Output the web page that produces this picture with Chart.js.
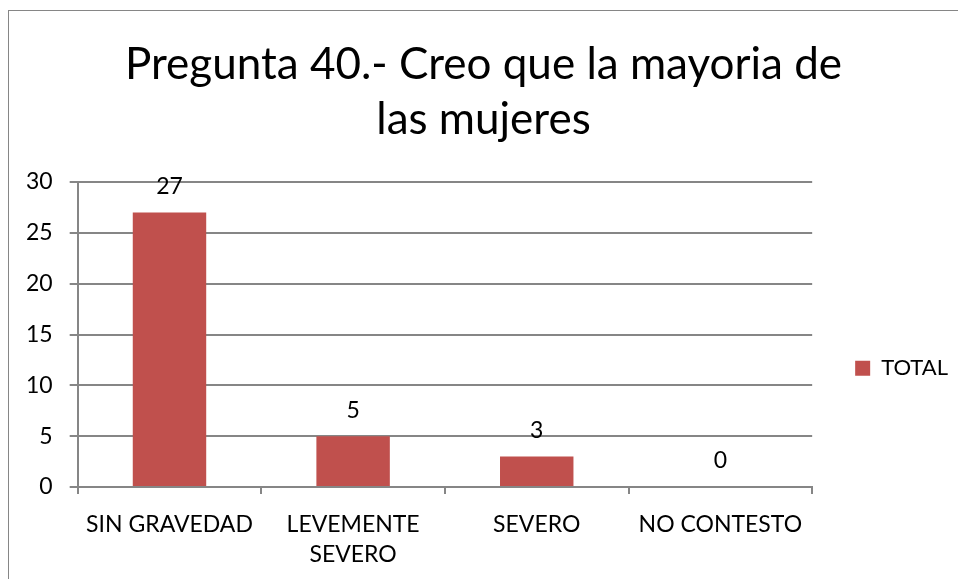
<!DOCTYPE html>
<html>
<head>
<meta charset="utf-8">
<script src="https://cdn.jsdelivr.net/npm/chart.js@4/dist/chart.umd.min.js"></script>
<style>
  html, body { margin: 0; padding: 0; background: #fff; overflow: hidden; }
  #frame {
    position: absolute; left: 8px; top: 10px;
    width: 1000px; height: 700px;
    border: 1px solid #868686;
  }
  #wrap { position: absolute; left: 0; top: 0; width: 971px; height: 568px; }
</style>
</head>
<body>
<div id="frame">
  <div id="wrap"><canvas id="chart"></canvas></div>
</div>
<script>
//categories and values
const categories = ["SIN GRAVEDAD", ["LEVEMENTE", "SEVERO"], "SEVERO", "NO CONTESTO"];
const totals = [27, 5, 3, 0];
const seriesName = "TOTAL";
const chartTitle = ["Pregunta 40.- Creo que la mayoria de", "las mujeres"];
const yTicks = [0, 5, 10, 15, 20, 25, 30];

const barColor = "#C0504D";
const lineColor = "#868686";
const fontFamily = "Lato, 'Open Sans', sans-serif";

//Plugin that writes the value above each bar
const valueLabels = {
  id: "valueLabels",
  afterDatasetsDraw(chart) {
    const ctx = chart.ctx;
    const meta = chart.getDatasetMeta(0);
    ctx.save();
    ctx.fillStyle = "#000";
    ctx.font = "23px " + fontFamily;
    ctx.textAlign = "center";
    ctx.textBaseline = "middle";
    meta.data.forEach((bar, i) => {
      ctx.fillText(String(totals[i]), bar.x, bar.y - 26);
    });
    ctx.restore();
  },
};

new Chart(document.getElementById("chart"), {
  type: "bar",
  plugins: [valueLabels],
  data: {
    labels: categories,
    datasets: [
      {
        label: seriesName,
        data: totals,
        backgroundColor: barColor,
        categoryPercentage: 1,
        barPercentage: 0.4,
      },
    ],
  },
  options: {
    responsive: true,
    maintainAspectRatio: false,
    animation: false,
    layout: { padding: { left: 0, right: 22, top: 0, bottom: 0 } },
    plugins: {
      tooltip: { enabled: false },
      title: {
        display: true,
        text: chartTitle,
        color: "#000",
        font: { family: fontFamily, size: 44, weight: "normal", lineHeight: 1.25 },
        padding: { top: 26, bottom: 35 },
      },
      legend: {
        position: "right",
        //blank legend title only pushes the entry down to where it sits in the picture
        title: { display: true, text: " ", padding: { top: 0, bottom: 132 }, font: { size: 12 } },
        labels: {
          color: "#000",
          font: { family: fontFamily, size: 22 },
          boxWidth: 15,
          boxHeight: 15,
          padding: 43,
        },
      },
    },
    scales: {
      x: {
        afterFit: (axis) => {
          axis.height = 92;
        },
        grid: {
          offset: true,
          drawOnChartArea: false,
          drawTicks: true,
          tickLength: 7,
          color: lineColor,
          lineWidth: 2,
        },
        border: { color: lineColor, width: 2 },
        ticks: {
          color: "#000",
          padding: 16,
          maxRotation: 0,
          font: { family: fontFamily, size: 23, lineHeight: 1.3 },
        },
      },
      y: {
        min: 0,
        max: 30,
        afterBuildTicks: (axis) => {
          axis.ticks = yTicks.map((v) => ({ value: v }));
        },
        grid: { color: lineColor, lineWidth: 2, tickLength: 8 },
        border: { color: lineColor, width: 2 },
        ticks: {
          color: "#000",
          padding: 17,
          font: { family: fontFamily, size: 23 },
        },
      },
    },
  },
});
</script>
</body>
</html>
